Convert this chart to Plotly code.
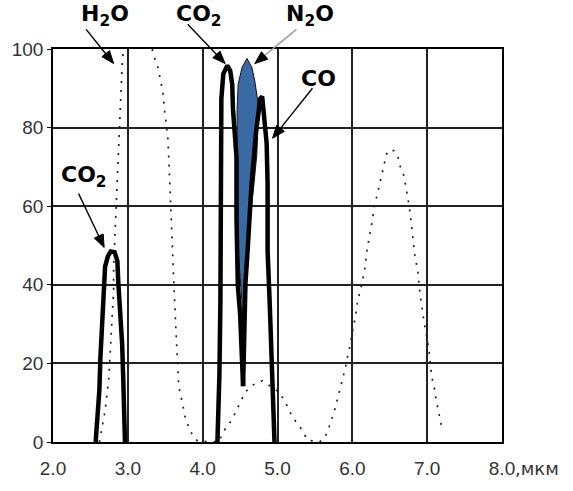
import math
import plotly.graph_objects as go

# ---- axis ticks ----
x_ticks = [2, 3, 4, 5, 6, 7, 8]
x_tick_text = ["2.0", "3.0", "4.0", "5.0", "6.0", "7.0", "8.0"]
x_unit = ",мкм"
y_ticks = [0, 20, 40, 60, 80, 100]

# ---- CO2 band near 2.7 um ----
co2_left_x = [2.57, 2.595, 2.62, 2.633, 2.658, 2.67, 2.684, 2.696, 2.734, 2.772,
              2.823, 2.86, 2.873, 2.9, 2.924, 2.937, 2.95, 2.962]
co2_left_y = [0, 5.6, 13.3, 21.2, 28.8, 36.5, 40.5, 44.6, 47.3, 48.5,
              48.3, 46.1, 40.5, 32.8, 24.9, 17.2, 9.5, 0]

# ---- CO2 band near 4.3 um ----
co2_main_x = [4.197, 4.21, 4.224, 4.237, 4.237, 4.24, 4.25, 4.276, 4.33, 4.368,
              4.395, 4.405, 4.428, 4.452, 4.452, 4.455, 4.47, 4.5, 4.526, 4.54]
co2_main_y = [0, 7.9, 17.2, 35.8, 60, 81.3, 87.4, 93.7, 95.8, 94.5,
              91, 84.7, 79.5, 72.5, 56.8, 42.2, 39.8, 32.8, 21.9, 14.2]

# ---- CO band ----
co_x = [4.54, 4.555, 4.572, 4.60, 4.622, 4.652, 4.712, 4.77, 4.795, 4.83,
        4.855, 4.868, 4.868, 4.895, 4.92, 4.947, 4.96]
co_y = [14.2, 32.8, 40.5, 48.5, 56.8, 65.3, 78.7, 87.4, 87.9, 82.1,
        76, 65.3, 48.5, 35.8, 19.5, 7.9, 0]

# ---- N2O band (filled outline) ----
n2o_x = [4.592, 4.658, 4.697, 4.737, 4.737, 4.724, 4.684, 4.632, 4.592, 4.566,
         4.553, 4.553, 4.54, 4.526, 4.5, 4.474, 4.474, 4.46, 4.46, 4.46,
         4.474, 4.526, 4.592]
n2o_y = [97.6, 95.3, 91.8, 86.6, 80.5, 73.3, 65.3, 56.8, 50.2, 42.9,
         35.8, 27, 27, 35.8, 42.2, 48.5, 56.8, 65.3, 76, 84.7,
         91, 95.3, 97.6]

# ---- H2O (dotted) ----
h2o_x = [2.62, 2.633, 2.658, 2.696, 2.72, 2.747, 2.76, 2.772, 2.785, 2.81,
         2.81, 2.823, 2.835, 2.848, 2.873, 2.9, 2.924, 2.937,
         2.96, 3.05, 3.15, 3.25,
         3.333, 3.40, 3.467, 3.493, 3.533, 3.547, 3.56, 3.573, 3.613, 3.64,
         3.667, 3.68, 3.733, 3.773, 3.867, 3.933, 4.21,
         4.30, 4.39, 4.50, 4.566, 4.658, 4.80, 5.027, 5.12, 5.2, 5.32, 5.4, 5.56,
         5.627, 5.693, 5.76, 5.827, 5.867, 5.907, 5.933, 5.973, 6.014, 6.04,
         6.07, 6.097, 6.125, 6.167, 6.194, 6.236, 6.264, 6.29, 6.347, 6.403,
         6.458, 6.5,
         6.556, 6.61, 6.625, 6.68, 6.72, 6.764, 6.79, 6.833, 6.875, 6.9,
         6.944, 7.0, 7.024, 7.06, 7.1, 7.12, 7.17, 7.2]
h2o_y = [0, 1.6, 4, 7.9, 11.9, 16.5, 21.2, 25.8, 31.9, 38.8,
         44.6, 51, 56, 61.9, 73.3, 86.6, 96, 99,
         104, 115, 118, 112,
         98.9, 95.5, 89.2, 84, 77.9, 72.5, 65.3, 60, 41.2, 29.5,
         20.2, 14.2, 9.5, 5.6, 1.6, 0.2, 0,
         3.3, 5.6, 10.2, 12.6, 14.4, 15.6, 12.6, 9.5, 6.3, 3.3, 0.5, 0,
         0.9, 4, 7.9, 13, 15.3, 18.8, 21.4, 24.9, 29.5, 31.6,
         35.8, 37.7, 40, 44.1, 48.5, 53.2, 55.9, 59.5, 64.5, 68.8,
         73.3, 74.4,
         74.1, 72.8, 70.7, 68.5, 64.5, 59.5, 55.1, 47.8, 43.4, 38.6,
         32.3, 25.8, 23.5, 16.7, 13.3, 10.7, 5.6, 3.3]

# ---- labels (text, x, y) ----
label_text = ["H<sub>2</sub>O", "CO<sub>2</sub>", "N<sub>2</sub>O", "CO", "CO<sub>2</sub>"]
label_x = [2.70, 3.947, 5.44, 5.547, 2.418]
label_y = [108.4, 108.4, 108.4, 92.4, 67.5]

# ---- arrows: head (x, y), tail (x, y), shaft colour ----
arrow_head_x = [2.81, 4.30, 4.697, 4.934, 2.684]
arrow_head_y = [96.3, 96.3, 96.3, 77.3, 49.5]
arrow_tail_x = [2.443, 3.80, 5.253, 5.467, 2.342]
arrow_tail_y = [105, 106.3, 105, 90, 63.2]
arrow_shaft_color = ["black", "black", "#9a9a9a", "black", "black"]

X_RANGE = [2, 8]
Y_RANGE = [0, 100]
MARGIN = dict(l=43, r=71, t=49, b=37)
W, H = 573, 491
PW = W - MARGIN["l"] - MARGIN["r"]
PH = H - MARGIN["t"] - MARGIN["b"]


def to_paper(x, y):
    return ((x - X_RANGE[0]) / (X_RANGE[1] - X_RANGE[0]),
            (y - Y_RANGE[0]) / (Y_RANGE[1] - Y_RANGE[0]))


fig = go.Figure()

fig.add_trace(go.Scatter(x=h2o_x, y=h2o_y, mode="lines",
                         line=dict(color="#222", width=1.7, dash="2px,7px"),
                         hoverinfo="skip", showlegend=False))
fig.add_trace(go.Scatter(x=n2o_x, y=n2o_y, mode="lines", fill="toself",
                         fillcolor="#3a6aa3", line=dict(color="#111", width=1),
                         hoverinfo="skip", showlegend=False))
for xs, ys in [(co2_left_x, co2_left_y), (co2_main_x, co2_main_y), (co_x, co_y)]:
    fig.add_trace(go.Scatter(x=xs, y=ys, mode="lines",
                             line=dict(color="black", width=4.5),
                             hoverinfo="skip", showlegend=False))

annotations = []
for t, lx, ly in zip(label_text, label_x, label_y):
    px, py = to_paper(lx, ly)
    annotations.append(dict(text="<b>" + t + "</b>", x=px, y=py,
                            xref="paper", yref="paper", showarrow=False,
                            xanchor="center", yanchor="middle",
                            font=dict(family="DejaVu Sans", size=22, color="black")))
# unit after the last x tick
annotations.append(dict(text=x_unit, x=1.0, y=0, xref="paper", yref="paper",
                        xanchor="left", yanchor="top", xshift=11, yshift=-14,
                        showarrow=False,
                        font=dict(family="DejaVu Sans", size=18, color="#333")))

# arrows drawn as shapes (shaft line + filled triangular head), in paper coords
shapes = []
HEAD_LEN, HEAD_HALF = 13.0, 5.0
for hx, hy, tx, ty, col in zip(arrow_head_x, arrow_head_y, arrow_tail_x,
                               arrow_tail_y, arrow_shaft_color):
    hpx, hpy = to_paper(hx, hy)
    tpx, tpy = to_paper(tx, ty)
    hX, hY = hpx * PW, hpy * PH
    tX, tY = tpx * PW, tpy * PH
    dx, dy = hX - tX, hY - tY
    L = math.hypot(dx, dy)
    ux, uy = dx / L, dy / L
    bX, bY = hX - ux * HEAD_LEN, hY - uy * HEAD_LEN
    nx, ny = -uy, ux
    p1 = (bX + nx * HEAD_HALF, bY + ny * HEAD_HALF)
    p2 = (bX - nx * HEAD_HALF, bY - ny * HEAD_HALF)
    shapes.append(dict(type="line", xref="paper", yref="paper",
                       x0=tX / PW, y0=tY / PH, x1=(bX + ux * 2) / PW, y1=(bY + uy * 2) / PH,
                       line=dict(color=col, width=1.4)))
    path = "M {:.5f},{:.5f} L {:.5f},{:.5f} L {:.5f},{:.5f} Z".format(
        hX / PW, hY / PH, p1[0] / PW, p1[1] / PH, p2[0] / PW, p2[1] / PH)
    shapes.append(dict(type="path", xref="paper", yref="paper", path=path,
                       fillcolor="black", line=dict(color="black", width=1)))

fig.update_layout(
    width=W, height=H,
    margin=MARGIN,
    paper_bgcolor="white", plot_bgcolor="white",
    annotations=annotations,
    shapes=shapes,
    showlegend=False,
)
fig.update_xaxes(range=X_RANGE, tickvals=x_ticks, ticktext=x_tick_text,
                 showgrid=True, gridcolor="#222", gridwidth=1.5,
                 showline=True, linecolor="black", linewidth=1.5, mirror=True,
                 zeroline=False, ticks="", ticklabelstandoff=8,
                 tickfont=dict(family="Liberation Sans", size=19, color="#333"))
fig.update_yaxes(range=Y_RANGE, tickvals=y_ticks,
                 showgrid=True, gridcolor="#222", gridwidth=1.5,
                 showline=True, linecolor="black", linewidth=1.5, mirror=True,
                 zeroline=False, ticks="outside", ticklen=4, tickcolor="black",
                 tickfont=dict(family="Liberation Sans", size=19, color="#333"))

fig.write_html("out.html")
